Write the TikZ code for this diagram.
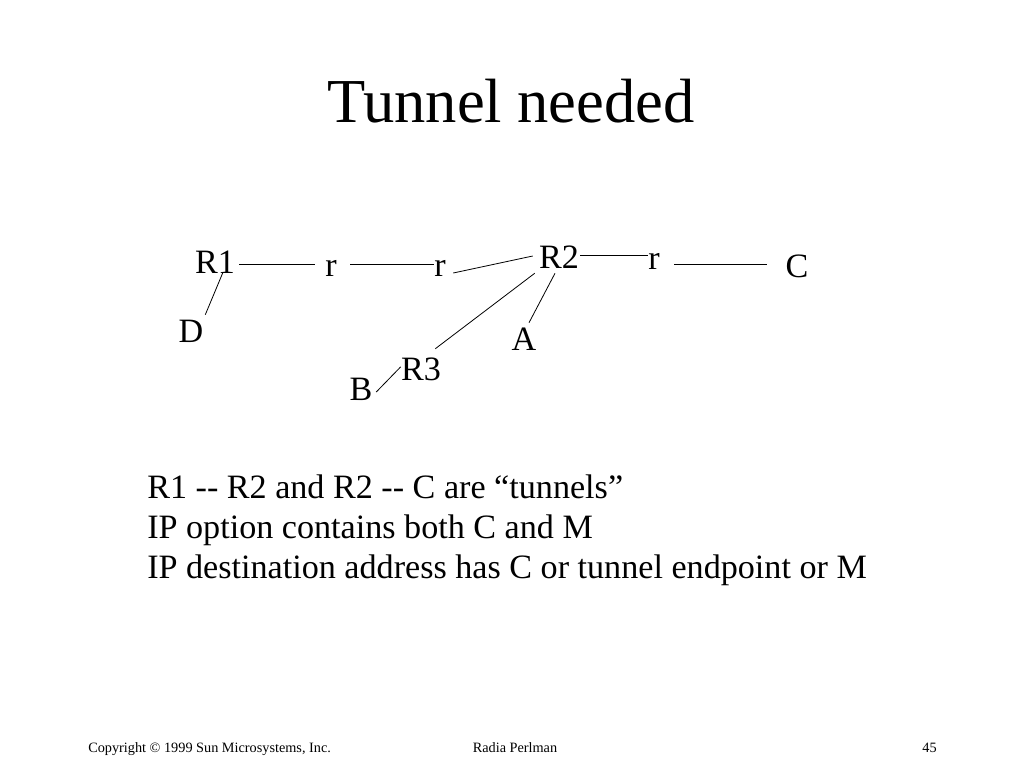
\documentclass[tikz,border=0pt]{standalone}
\usepackage{fontspec}
\setmainfont{Liberation Serif}

\begin{document}
\begin{tikzpicture}[x=0.75pt,y=-0.75pt]
		\tikzstyle{lbl} = [draw=none,fill=none,inner sep=0pt,anchor=base,text height=15.9pt,text depth=0pt,font=\fontsize{25.6}{30}\selectfont]
		\tikzstyle{txt} = [draw=none,fill=none,inner sep=0pt,anchor=base west,font=\fontsize{25.6}{30}\selectfont]
		\tikzstyle{foot} = [draw=none,fill=none,inner sep=0pt,font=\fontsize{10.7}{13}\selectfont]
		\tikzstyle{wire} = [line width=0.6pt]
		\useasboundingbox (0,0) rectangle (1024,768);

		\node[anchor=base,inner sep=0pt,font=\fontsize{46.9}{56}\selectfont] (title) at (511,122) {Tunnel needed};

		\node[lbl] (R1) at (215,273) {R1};
		\node[lbl] (r1) at (331,276) {r};
		\node[lbl] (r2) at (440,276) {r};
		\node[lbl] (R2) at (559,268) {R2};
		\node[lbl] (r3) at (654,269) {r};
		\node[lbl] (C) at (797,277) {C};
		\node[lbl] (D) at (191,342) {D};
		\node[lbl] (A) at (524,350) {A};
		\node[lbl] (R3) at (421,380) {R3};
		\node[lbl] (B) at (361,400) {B};

		\draw[wire] ([shift={(4,1.6)}]R1.east) -- ([shift={(-10.3,-1.4)}]r1.west);
		\draw[wire] ([shift={(13.3,-1.4)}]r1.east) -- ([shift={(-0.3,-1.4)}]r2.west);
		\draw[wire] ([shift={(7.3,7.6)}]r2.east) -- ([shift={(-6.1,-1.4)}]R2.west);
		\draw[wire] ([shift={(1.1,-2.4)}]R2.east) -- ([shift={(-0.3,-3.4)}]r3.west);
		\draw[wire] ([shift={(14.3,5.6)}]r3.east) -- ([shift={(-18.6,-2.4)}]C.west);
		\draw[wire] ([shift={(-4,5)}]R2.south) -- ([shift={(5,-5.8)}]A.north);
		\draw[wire] ([shift={(-4.1,5)}]R2.south west) -- ([shift={(-5.9,-9.8)}]R3.north east);
		\draw[wire] ([shift={(8,-1)}]R1.south) -- ([shift={(1.7,-5.8)}]D.north east);
		\draw[wire] ([shift={(-0.1,-2.6)}]R3.west) -- ([shift={(3.6,2.6)}]B.east);

		\node[txt] (note1) at (147,498) {R1 -{}- R2 and R2 -{}- C are “tunnels”};
		\node[txt] (note2) at (147,538) {IP option contains both C and M};
		\node[txt] (note3) at (147,578) {IP destination address has C or tunnel endpoint or M};

		\node[foot,anchor=base west] (copy) at (88,752) {Copyright © 1999 Sun Microsystems, Inc.};
		\node[foot,anchor=base] (auth) at (515,752) {Radia Perlman};
		\node[foot,anchor=base east] (page) at (937,752) {45};
\end{tikzpicture}
\end{document}
